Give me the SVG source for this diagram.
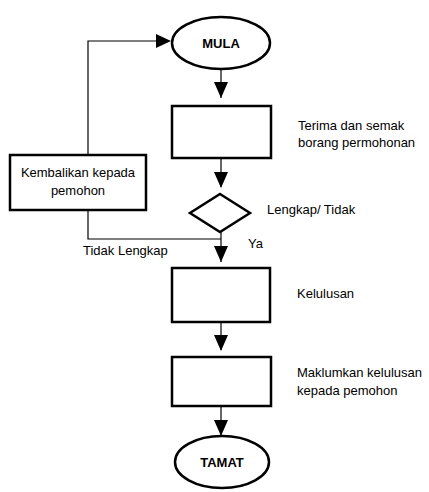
<svg xmlns="http://www.w3.org/2000/svg" width="429" height="492" viewBox="0 0 429 492">
<defs>
<style>
.shape{fill:#fff;stroke:#000;stroke-width:2.5}
.conn{fill:none;stroke:#000;stroke-width:1.2}
.head{fill:#000}
.t{font-family:"Liberation Sans",Arial,sans-serif;font-size:13px;fill:#000}
.b{font-family:"Liberation Sans",Arial,sans-serif;font-size:13px;font-weight:bold;fill:#000}
</style>
</defs>
<rect width="429" height="492" fill="#fff"/>
<g id="connectors">
<path class="conn" d="M221,69 V98"/>
<path class="head" d="M214,82 L228,82 L221,98 Z"/>
<path class="conn" d="M221,158 V187"/>
<path class="head" d="M214,172 L228,172 L221,188 Z"/>
<path class="conn" d="M221,232 V262"/>
<path class="head" d="M214,246 L228,246 L221,262 Z"/>
<path class="conn" d="M221,322 V350"/>
<path class="head" d="M214,335 L228,335 L221,351 Z"/>
<path class="conn" d="M221,406 V435"/>
<path class="head" d="M214,420 L228,420 L221,436 Z"/>
<path class="conn" d="M88,210 V239 H221"/>
<path class="conn" d="M88,155 V41 H160"/>
<path class="head" d="M156,34 L171,41 L156,48 Z"/>
</g>
<g id="mula">
<ellipse class="shape" cx="221" cy="43" rx="49" ry="26"/>
<text class="b" x="221" y="48" text-anchor="middle">MULA</text>
</g>
<g id="terima">
<rect class="shape" x="172" y="106" width="99" height="52"/>
<text class="t" x="298" y="130">Terima dan semak</text>
<text class="t" x="298" y="147">borang permohonan</text>
</g>
<g id="kembalikan">
<rect class="shape" x="10" y="155" width="136" height="55"/>
<text class="t" x="78" y="177" text-anchor="middle">Kembalikan kepada</text>
<text class="t" x="78" y="195" text-anchor="middle">pemohon</text>
</g>
<g id="semak">
<path class="shape" d="M220,194 L250,213 L220,232 L190,213 Z"/>
<text class="t" x="267" y="214">Lengkap/ Tidak</text>
</g>
<g id="labels">
<text class="t" x="248" y="248">Ya</text>
<text class="t" x="83" y="255">Tidak Lengkap</text>
</g>
<g id="kelulusan">
<rect class="shape" x="172" y="268" width="98" height="54"/>
<text class="t" x="297" y="298">Kelulusan</text>
</g>
<g id="maklumkan">
<rect class="shape" x="172" y="357" width="99" height="49"/>
<text class="t" x="297" y="377">Maklumkan kelulusan</text>
<text class="t" x="297" y="395">kepada pemohon</text>
</g>
<g id="tamat">
<ellipse class="shape" cx="222" cy="462" rx="47" ry="26"/>
<text class="b" x="222" y="467" text-anchor="middle">TAMAT</text>
</g>
</svg>
